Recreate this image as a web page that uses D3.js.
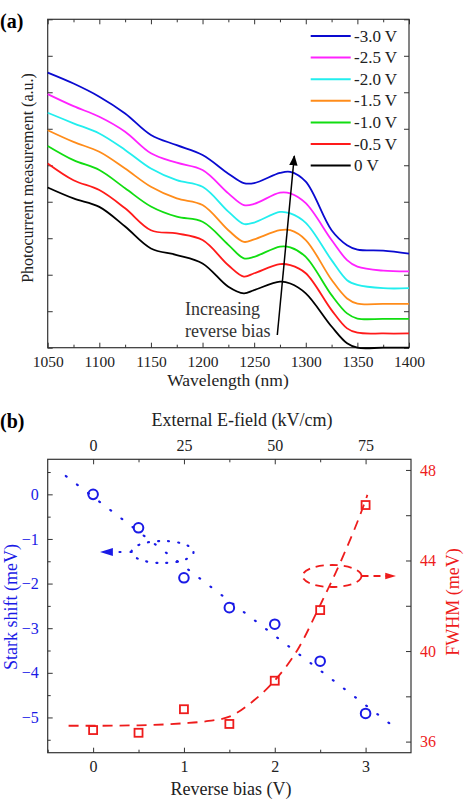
<!DOCTYPE html>
<meta charset="utf-8">
<script src="https://d3js.org/d3.v7.min.js"></script>
<style>
  body { margin: 0; background: #fff; }
  svg text { font-family: "Liberation Serif", "Times New Roman", Times, serif; }
  .frame { fill: none; stroke: #333; stroke-width: 1.2; }
  .tick line { stroke: #333; }
  .domain { display: none; }
</style>
<div id="chart"></div>
<script>
// ---- panel (a) data: photocurrent spectra (a.u., offset) ----
const wavelength = [1050,1075,1100,1125,1150,1175,1200,1225,1240,1250,1275,1285,1300,1325,1340,1350,1375,1400];
const biasLabels = ["-3.0 V","-2.5 V","-2.0 V","-1.5 V","-1.0 V","-0.5 V","0 V"];
const biasColors = ["#0a0ad0","#ff22ff","#22eeee","#ff8c1a","#11dd11","#ff1a1a","#000000"];
const pc_m30 = [7.54,7.24,6.88,6.42,5.83,5.55,5.28,4.77,4.51,4.51,4.79,4.82,4.55,3.22,2.81,2.69,2.66,2.58];
const pc_m25 = [6.95,6.62,6.33,5.92,5.33,5.07,4.87,4.23,3.91,3.94,4.25,4.23,3.96,2.95,2.40,2.22,2.11,2.09];
const pc_m20 = [6.44,6.15,5.87,5.42,4.91,4.59,4.41,3.73,3.39,3.43,3.72,3.68,3.42,2.40,1.85,1.72,1.63,1.63];
const pc_m15 = [5.96,5.64,5.37,4.91,4.41,4.09,3.91,3.22,2.90,2.97,3.22,3.22,2.95,1.86,1.35,1.21,1.20,1.20];
const pc_m10 = [5.53,5.14,4.87,4.37,3.87,3.59,3.45,2.82,2.45,2.49,2.77,2.75,2.49,1.44,0.94,0.80,0.79,0.79];
const pc_m05 = [5.05,4.59,4.32,3.82,3.22,3.13,2.95,2.26,1.95,2.04,2.29,2.26,2.04,1.03,0.53,0.41,0.39,0.39];
const pc_0   = [4.39,4.09,3.86,3.32,2.72,2.54,2.31,1.67,1.49,1.58,1.81,1.76,1.49,0.58,0.12,0.00,0.00,0.00];
const spectra = [pc_m30, pc_m25, pc_m20, pc_m15, pc_m10, pc_m05, pc_0];

// ---- panel (b) data ----
const bias = [0,0.5,1,1.5,2,2.5,3];
const starkShift = [0,-0.75,-1.87,-2.54,-2.91,-3.74,-4.91];
const fwhm = [36.51,36.39,37.43,36.78,38.69,41.81,46.45];
const starkFitX = [-0.3,3.3];
const starkFitY = [0.41,-5.19];
const fwhmFitX = [-0.27,0,0.5,1,1.25,1.5,1.75,2,2.25,2.5,2.75,3,3.02];
const fwhmFitY = [36.70,36.70,36.72,36.81,36.9,37.1,37.75,38.7,40.05,42.03,44.17,46.67,46.9];

const svg = d3.select("#chart").append("svg")
  .attr("width", 465).attr("height", 799);

// axis with styled labels
function ticks(g, axis, size) {
  g.call(axis);
  g.selectAll(".tick text").attr("font-size", size || 16).attr("fill", "#222");
}

// ================= panel (a) =================
const a = {left: 47.7, right: 409, top: 19.3, bottom: 347.7};
const xa = d3.scaleLinear().domain([1050,1400]).range([a.left, a.right]);
const ya = d3.scaleLinear().domain([0,9]).range([a.bottom, a.top]);

svg.append("g").attr("transform", `translate(0,${a.bottom})`)
  .call(g => ticks(g, d3.axisBottom(xa).tickValues(d3.range(1050,1401,50)).tickSize(-5).tickPadding(8).tickFormat(d3.format("d")), 15.5));
svg.append("g").attr("transform", `translate(0,${a.bottom})`)
  .call(d3.axisBottom(xa).tickValues(d3.range(1075,1400,50)).tickSize(-3).tickFormat(""));
svg.append("g").attr("transform", `translate(0,${a.top})`)
  .call(d3.axisTop(xa).tickValues(d3.range(1050,1401,50)).tickSize(-5).tickFormat(""));
svg.append("g").attr("transform", `translate(0,${a.top})`)
  .call(d3.axisTop(xa).tickValues(d3.range(1075,1400,50)).tickSize(-3).tickFormat(""));
svg.append("g").attr("transform", `translate(${a.left},0)`)
  .call(d3.axisLeft(ya).tickValues(d3.range(0,10)).tickSize(-5).tickFormat(""));
svg.append("g").attr("transform", `translate(${a.right},0)`)
  .call(d3.axisRight(ya).tickValues(d3.range(0,10)).tickSize(-5).tickFormat(""));
svg.append("rect").attr("class", "frame")
  .attr("x", a.left).attr("y", a.top).attr("width", a.right - a.left).attr("height", a.bottom - a.top);

const lineA = d3.line().curve(d3.curveCatmullRom)
  .x((d, i) => xa(wavelength[i])).y(d => ya(d));
svg.append("g").selectAll("path").data(spectra).join("path")
  .attr("d", lineA).attr("fill", "none")
  .attr("stroke", (d, i) => biasColors[i]).attr("stroke-width", 1.8);

// legend
const leg = svg.append("g");
biasLabels.forEach((lab, i) => {
  const yy = 36 + i * 21.6;
  leg.append("line").attr("x1", 310.7).attr("x2", 350.7).attr("y1", yy).attr("y2", yy)
    .attr("stroke", biasColors[i]).attr("stroke-width", 2);
  leg.append("text").attr("x", 354).attr("y", yy + 5.5).attr("font-size", 17).attr("fill", "#222").text(lab);
});

// arrow annotation
svg.append("defs").append("marker").attr("id", "headA").attr("viewBox", "0 0 10 10")
  .attr("refX", 9).attr("refY", 5).attr("markerWidth", 7).attr("markerHeight", 7).attr("orient", "auto")
  .append("path").attr("d", "M0,1 L10,5 L0,9 Z").attr("fill", "#000");
svg.append("line").attr("x1", 277.3).attr("y1", 335).attr("x2", 294.3).attr("y2", 156)
  .attr("stroke", "#000").attr("stroke-width", 1.5).attr("marker-end", "url(#headA)");
svg.append("text").attr("x", 185).attr("y", 315).attr("font-size", 18).attr("fill", "#333").text("Increasing");
svg.append("text").attr("x", 185).attr("y", 337).attr("font-size", 18).attr("fill", "#333").text("reverse bias");

svg.append("text").attr("x", 228).attr("y", 386).attr("text-anchor", "middle").attr("font-size", 17.5).attr("fill", "#222").text("Wavelength (nm)");
svg.append("text").attr("transform", "translate(33,178) rotate(-90)").attr("text-anchor", "middle")
  .attr("font-size", 16).attr("fill", "#222").text("Photocurrent measurement (a.u.)");
svg.append("text").attr("x", 0).attr("y", 28).attr("font-size", 20).attr("font-weight", "bold").text("(a)");

// ================= panel (b) =================
const b = {left: 47.7, right: 411, top: 459.3, bottom: 752.7};
const blue = "#1a1ae6", red = "#ee1c1c";
const xb = d3.scaleLinear().domain([-0.5,3.5]).range([b.left, b.right]);
const xField = d3.scaleLinear().domain([-12.5,87.5]).range([b.left, b.right]);
const yStark = d3.scaleLinear().domain([-5.79,0.785]).range([b.bottom, b.top]);
const yFwhm = d3.scaleLinear().domain([35.51,48.47]).range([b.bottom, b.top]);

svg.append("g").attr("transform", `translate(0,${b.bottom})`)
  .call(g => ticks(g, d3.axisBottom(xb).tickValues([0,1,2,3]).tickSize(-5).tickPadding(8).tickFormat(d3.format("d"))));
svg.append("g").attr("transform", `translate(0,${b.bottom})`)
  .call(d3.axisBottom(xb).tickValues([-0.5,0.5,1.5,2.5]).tickSize(-3).tickFormat(""));
svg.append("g").attr("transform", `translate(0,${b.top})`)
  .call(g => ticks(g, d3.axisTop(xField).tickValues([0,25,50,75]).tickSize(-5).tickPadding(8)));
svg.append("g").attr("transform", `translate(0,${b.top})`)
  .call(d3.axisTop(xField).tickValues([12.5,37.5,62.5]).tickSize(-3).tickFormat(""));
svg.append("g").attr("transform", `translate(${b.left},0)`)
  .call(g => ticks(g, d3.axisLeft(yStark).tickValues([0,-1,-2,-3,-4,-5]).tickSize(-5).tickPadding(9).tickFormat(d3.format("d"))))
  .selectAll(".tick text").attr("fill", blue);
svg.append("g").attr("transform", `translate(${b.left},0)`)
  .call(d3.axisLeft(yStark).tickValues([0.5,-0.5,-1.5,-2.5,-3.5,-4.5,-5.5]).tickSize(-3).tickFormat(""));
svg.append("g").attr("transform", `translate(${b.right},0)`)
  .call(g => ticks(g, d3.axisRight(yFwhm).tickValues([36,40,44,48]).tickSize(-5).tickPadding(9)))
  .selectAll(".tick text").attr("fill", red);
svg.append("g").attr("transform", `translate(${b.right},0)`)
  .call(d3.axisRight(yFwhm).tickValues([38,42,46]).tickSize(-5).tickFormat(""));
svg.append("rect").attr("class", "frame")
  .attr("x", b.left).attr("y", b.top).attr("width", b.right - b.left).attr("height", b.bottom - b.top);

// fits
svg.append("path").datum(starkFitX.map((x, i) => [x, starkFitY[i]]))
  .attr("d", d3.line().x(d => xb(d[0])).y(d => yStark(d[1])))
  .attr("fill", "none").attr("stroke", blue).attr("stroke-width", 2.2)
  .attr("stroke-linecap", "round").attr("stroke-dasharray", "1,13");
svg.append("path").datum(fwhmFitX.map((x, i) => [x, fwhmFitY[i]]))
  .attr("d", d3.line().curve(d3.curveMonotoneX).x(d => xb(d[0])).y(d => yFwhm(d[1])))
  .attr("fill", "none").attr("stroke", red).attr("stroke-width", 1.8)
  .attr("stroke-dasharray", "10,7");

// markers
svg.append("g").selectAll("circle").data(bias).join("circle")
  .attr("cx", d => xb(d)).attr("cy", (d, i) => yStark(starkShift[i])).attr("r", 4.8)
  .attr("fill", "none").attr("stroke", blue).attr("stroke-width", 2);
svg.append("g").selectAll("rect").data(bias).join("rect")
  .attr("x", d => xb(d) - 4).attr("y", (d, i) => yFwhm(fwhm[i]) - 4).attr("width", 8).attr("height", 8)
  .attr("fill", "none").attr("stroke", red).attr("stroke-width", 1.8);

// ellipse + arrow annotations
const defs = svg.append("defs");
[["headB", blue], ["headR", red]].forEach(([id, c]) => {
  defs.append("marker").attr("id", id).attr("viewBox", "0 0 10 10")
    .attr("refX", 9).attr("refY", 5).attr("markerWidth", 6).attr("markerHeight", 6).attr("orient", "auto")
    .append("path").attr("d", "M0,2 L10,5 L0,8 Z").attr("fill", c);
});
svg.append("ellipse").attr("cx", 162.5).attr("cy", 552).attr("rx", 31).attr("ry", 11)
  .attr("fill", "none").attr("stroke", blue).attr("stroke-width", 2.2)
  .attr("stroke-linecap", "round").attr("stroke-dasharray", "1,9");
svg.append("line").attr("x1", 131.5).attr("y1", 552).attr("x2", 101).attr("y2", 552)
  .attr("stroke", blue).attr("stroke-width", 2.2).attr("stroke-linecap", "round")
  .attr("stroke-dasharray", "1,10").attr("marker-end", "url(#headB)");
svg.append("ellipse").attr("cx", 332).attr("cy", 576).attr("rx", 29.5).attr("ry", 11)
  .attr("fill", "none").attr("stroke", red).attr("stroke-width", 1.8).attr("stroke-dasharray", "8,6");
svg.append("line").attr("x1", 361.5).attr("y1", 576).attr("x2", 395).attr("y2", 576)
  .attr("stroke", red).attr("stroke-width", 1.8).attr("stroke-dasharray", "7,5").attr("marker-end", "url(#headR)");

// labels
svg.append("text").attr("x", 242).attr("y", 426).attr("text-anchor", "middle").attr("font-size", 18).attr("fill", "#222").text("External E-field (kV/cm)");
svg.append("text").attr("x", 231).attr("y", 795).attr("text-anchor", "middle").attr("font-size", 18).attr("fill", "#222").text("Reverse bias (V)");
svg.append("text").attr("transform", "translate(17,607) rotate(-90)").attr("text-anchor", "middle")
  .attr("font-size", 18).attr("fill", blue).text("Stark shift (meV)");
svg.append("text").attr("transform", "translate(459,602) rotate(-90)").attr("text-anchor", "middle")
  .attr("font-size", 18).attr("fill", red).text("FWHM (meV)");
svg.append("text").attr("x", 0).attr("y", 428).attr("font-size", 20).attr("font-weight", "bold").text("(b)");
</script>
